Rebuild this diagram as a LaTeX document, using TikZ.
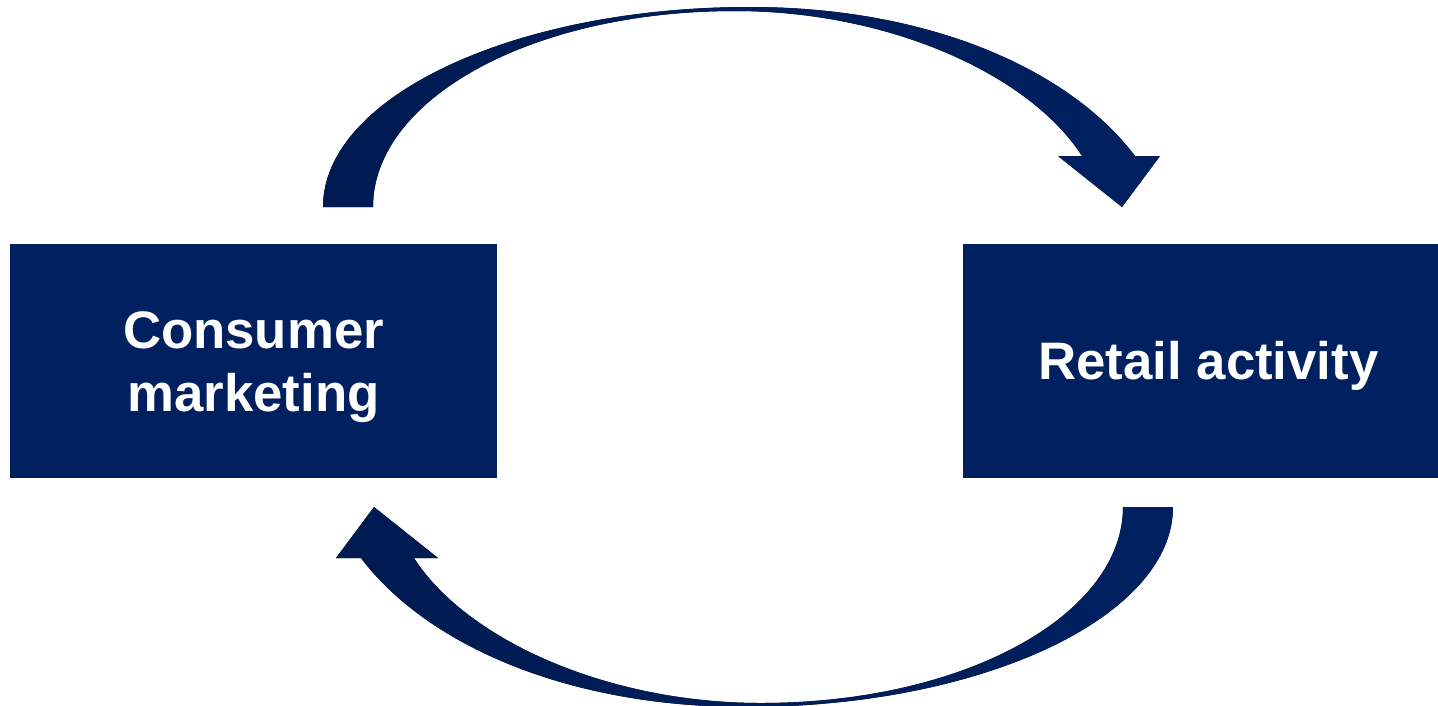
\documentclass[tikz,border=0pt]{standalone}
\usepackage{fontspec}
\setmainfont{Liberation Sans}
\usetikzlibrary{positioning}
\definecolor{navyblue}{RGB}{0, 32, 96}
\definecolor{navydark}{RGB}{0, 27, 82}

% drop the ink a little without changing the box
\newcommand{\lowered}[1]{\raisebox{-0.06cm}[\height][\depth]{\begin{tabular}{@{}c@{}}#1\end{tabular}}}

\tikzset{
  stagebox/.style={fill=navyblue, text=white, font=\fontsize{15}{18}\selectfont\bfseries,
    align=center, minimum width=4.87cm, minimum height=2.34cm, inner sep=0pt},
  loopband/.style={left color=navydark, right color=navyblue}
}

\begin{document}
\begin{tikzpicture}[x=0.01cm, y=-0.01cm]
  \useasboundingbox (0,0) rectangle (1438,705);
  \node[stagebox] (consumer) at (253.5,361) {\lowered{Consumer\\marketing}};
  \node[stagebox, minimum width=4.75cm] (retail) at (1200.5,361) {\hspace*{0.16cm}\lowered{Retail activity}};
  % the two curved block arrows, one turned half round the other
  \foreach \ang in {0,180}
    \fill[loopband, rotate around={\ang:(748,357)}]
      (323,207) .. controls (323,97) and (514,7) .. (750,7)
      .. controls (930,7) and (1070,70) .. (1135,156)
      -- (1160,156) -- (1122,207) -- (1058,156) -- (1082,156)
      .. controls (1030,75) and (890,11) .. (735,11)
      .. controls (530,11) and (373,100) .. (373,207) -- cycle;
\end{tikzpicture}
\end{document}
